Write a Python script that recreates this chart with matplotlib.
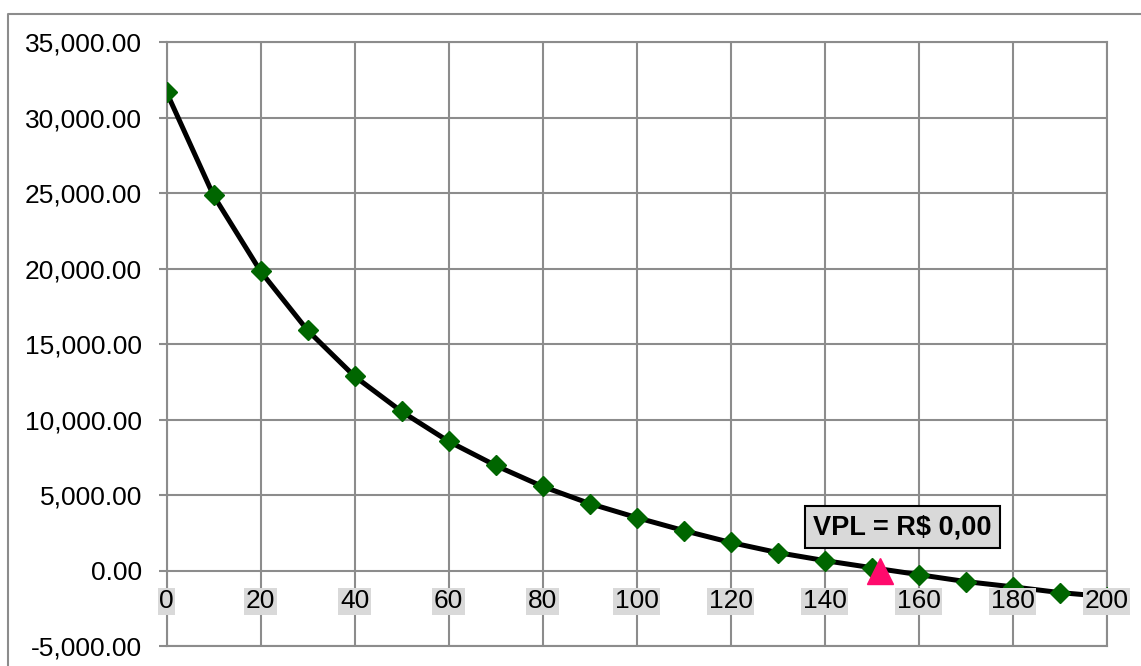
import numpy as np
import matplotlib.pyplot as plt
from matplotlib.lines import Line2D
from matplotlib.ticker import FuncFormatter

# Taxa de desconto (%) x VPL (R$)
taxas = [0, 10, 20, 30, 40, 50, 60, 70, 80, 90, 100,
         110, 120, 130, 140, 150, 160, 170, 180, 190, 200]
vpl = [31700, 24850, 19830, 15920, 12870, 10540, 8560, 6960, 5570, 4440, 3510,
       2650, 1860, 1190, 660, 190, -270, -730, -1080, -1460, -1730]

tir = 151.8
tir_vpl = 0.0
rotulo = "VPL = R$ 0,00"

xticks = [0, 20, 40, 60, 80, 100, 120, 140, 160, 180, 200]
yticks = [-5000, 0, 5000, 10000, 15000, 20000, 25000, 30000, 35000]

plt.rcParams['font.family'] = ['Liberation Sans', 'DejaVu Sans']

fig = plt.figure(figsize=(11.41, 6.66), dpi=100)
ax = fig.add_axes([166.5 / 1141, 20 / 666, 940.2 / 1141, 603.7 / 666])

grid_c = "#8c8c8c"

# moldura externa do gráfico
fig.add_artist(Line2D([7.5 / 1141, 7.5 / 1141, 1.0], [0.0, 1 - 13.5 / 666, 1 - 13.5 / 666],
                      transform=fig.transFigure, color=grid_c, lw=1.5))

ax.set_xlim(0, 200)
ax.set_ylim(-5000, 35000)
ax.set_xticks(xticks)
ax.set_yticks(yticks)
ax.grid(True, color=grid_c, lw=1.5)
ax.set_axisbelow(True)
for s in ax.spines.values():
    s.set_color(grid_c)
    s.set_linewidth(1.5)

ax.yaxis.set_major_formatter(FuncFormatter(lambda v, p: f"{v:,.2f}"))
ax.tick_params(axis="y", length=5.5, width=1.5, color=grid_c, labelsize=19, pad=12)
ax.tick_params(axis="x", length=0, labelbottom=False)

ax.plot(taxas, vpl, color="black", lw=3.6, zorder=3,
        marker="D", ms=10, mfc="#006600", mec="#006600")

ax.plot([tir], [tir_vpl], marker="^", ms=19, color="#ff0a6c", mec="#ff0a6c",
        ls="none", zorder=4, clip_on=False)

# rótulos do eixo x sobre a linha do zero
for t in xticks:
    ax.text(t, -2050, str(t), ha="center", va="center", fontsize=19, zorder=6,
            clip_on=False,
            bbox=dict(boxstyle="square,pad=0.06", fc="#d9d9d9", ec="none"))

ax.text(137.5, 2880, rotulo, ha="left", va="center", fontsize=19.5, fontweight="bold",
        zorder=7,
        bbox=dict(boxstyle="square,pad=0.3", fc="#d9d9d9", ec="black", lw=1.5))

fig.savefig("out.png", dpi=100)
